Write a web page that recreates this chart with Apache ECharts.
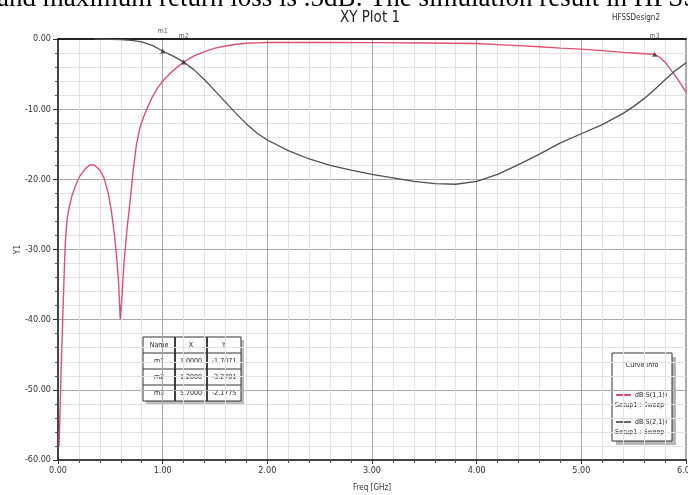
<!DOCTYPE html>
<html>
<head>
<meta charset="utf-8">
<script src="https://cdn.jsdelivr.net/npm/echarts@6/dist/echarts.min.js"></script>
<style>html,body{margin:0;padding:0;background:#fff}#c{width:688px;height:495px}</style>
</head>
<body>
<div id="c"></div>
<script>
// ---- data ----
var freqS11 = [0.01,0.02,0.03,0.045,0.06,0.07,0.085,0.1,0.13,0.17,0.21,0.26,0.31,0.35,0.40,0.44,0.48,0.51,0.54,0.56,0.58,0.595,0.61,0.63,0.66,0.69,0.72,0.75,0.78,0.82,0.86,0.9,0.95,1.0,1.1,1.2,1.3,1.4,1.5,1.6,1.7,1.8,1.9,2.0,2.5,3.0,3.5,4.0,4.2,4.4,4.6,4.8,5.0,5.2,5.4,5.5,5.6,5.7,5.75,5.8,5.85,5.9,5.95,6.0];
var dbS11 = [-58,-53,-47,-40,-33,-29,-26,-24.5,-22.5,-20.8,-19.5,-18.5,-17.9,-18.0,-18.7,-19.8,-22,-24.5,-28,-31,-35,-40,-37,-32,-27,-23,-18.5,-15,-12.8,-11,-9.6,-8.3,-7,-6,-4.5,-3.3,-2.4,-1.8,-1.3,-1.0,-0.75,-0.6,-0.55,-0.5,-0.5,-0.52,-0.58,-0.65,-0.8,-0.95,-1.1,-1.3,-1.45,-1.65,-1.9,-2.0,-2.1,-2.18,-2.6,-3.3,-4.3,-5.3,-6.4,-7.6];
var freqS21 = [0.35,0.5,0.6,0.7,0.8,0.9,1.0,1.1,1.2,1.3,1.4,1.5,1.6,1.7,1.8,1.9,2.0,2.2,2.4,2.6,2.8,3.0,3.2,3.4,3.6,3.8,4.0,4.2,4.4,4.6,4.8,5.0,5.2,5.4,5.5,5.6,5.7,5.8,5.9,6.0];
var dbS21 = [0,-0.05,-0.1,-0.2,-0.4,-0.9,-1.707,-2.45,-3.27,-4.4,-5.8,-7.4,-9.0,-10.6,-12.1,-13.4,-14.4,-15.9,-17.1,-18.0,-18.7,-19.3,-19.8,-20.3,-20.6,-20.7,-20.3,-19.3,-17.9,-16.4,-14.8,-13.5,-12.2,-10.6,-9.6,-8.5,-7.2,-5.8,-4.5,-3.4];
var markerNames = ['m1','m2','m3'];
var markerX = [1.0, 1.2, 5.7];
var markerY = [-1.7071, -3.2701, -2.1775];
var seriesNames = ['dB(S(1,1))','dB(S(2,1))'];
var sweepName = 'Setup1 : Sweep';

var FONT = '"Liberation Sans Narrow","DejaVu Sans Condensed","Liberation Sans",sans-serif';
function zip(a,b){return a.map(function(v,i){return [v,b[i]];});}

var chart = echarts.init(document.getElementById('c'), null, {renderer:'canvas'});

// table graphic
var tbl = {left:143, top:337, colW:[32,32,34], rowH:16};
var tblEls = [];
var tw = tbl.colW[0]+tbl.colW[1]+tbl.colW[2];
var rows = [['Name','X','Y']].concat(markerNames.map(function(n,i){return [n, markerX[i].toFixed(4), markerY[i].toFixed(4)];}));
tblEls.push({type:'rect', shape:{x:tbl.left+3,y:tbl.top+3,width:tw,height:rows.length*tbl.rowH}, style:{fill:'#bdbdbd'}});
tblEls.push({type:'rect', shape:{x:tbl.left,y:tbl.top,width:tw,height:rows.length*tbl.rowH}, style:{fill:'#fff',stroke:'#333',lineWidth:1}});
rows.forEach(function(r,ri){
  var cx = tbl.left;
  r.forEach(function(t,ci){
    tblEls.push({type:'text', x:cx+tbl.colW[ci]/2, y:tbl.top+ri*tbl.rowH+tbl.rowH/2, style:{text:t, font:'7px '+FONT, fill:'#222', align:'center', verticalAlign:'middle'}});
    if(ci>0) tblEls.push({type:'line', shape:{x1:cx,y1:tbl.top,x2:cx,y2:tbl.top+rows.length*tbl.rowH}, style:{stroke:'#333',lineWidth:1}});
    cx += tbl.colW[ci];
  });
  if(ri>0) tblEls.push({type:'line', shape:{x1:tbl.left,y1:tbl.top+ri*tbl.rowH,x2:tbl.left+tw,y2:tbl.top+ri*tbl.rowH}, style:{stroke:'#333',lineWidth:1}});
});

// legend graphic
var lg = {left:612, top:353, w:60, h:88};
var lgEls = [
  {type:'rect', shape:{x:lg.left+4,y:lg.top+4,width:lg.w,height:lg.h}, style:{fill:'#b5b5b5'}},
  {type:'rect', shape:{x:lg.left,y:lg.top,width:lg.w,height:lg.h}, style:{fill:'#fff',stroke:'#333',lineWidth:1}},
  {type:'text', x:lg.left+lg.w/2, y:lg.top+12, style:{text:'Curve Info', font:'7px '+FONT, fill:'#222', align:'center', verticalAlign:'middle'}},
  {type:'line', shape:{x1:lg.left+4,y1:lg.top+42,x2:lg.left+19,y2:lg.top+42}, style:{stroke:'#e0506e',lineWidth:2}},
  {type:'text', x:lg.left+23, y:lg.top+42, style:{text:seriesNames[0], font:'7px '+FONT, fill:'#222', verticalAlign:'middle'}},
  {type:'text', x:lg.left+3, y:lg.top+52, style:{text:sweepName, font:'7px '+FONT, fill:'#222', verticalAlign:'middle'}},
  {type:'line', shape:{x1:lg.left+4,y1:lg.top+69,x2:lg.left+19,y2:lg.top+69}, style:{stroke:'#333',lineWidth:1.5}},
  {type:'text', x:lg.left+23, y:lg.top+69, style:{text:seriesNames[1], font:'7px '+FONT, fill:'#222', verticalAlign:'middle'}},
  {type:'text', x:lg.left+3, y:lg.top+79, style:{text:sweepName, font:'7px '+FONT, fill:'#222', verticalAlign:'middle'}}
];

var labelDist = [14, 20, 12];

var option = {
  animation:false,
  backgroundColor:'#fff',
  grid:{left:58, right:2, top:39, bottom:35, outerBoundsMode:'none', containLabel:false, show:true, borderColor:'#555', borderWidth:1},
  xAxis:[{type:'value', min:0, max:6, interval:1,
    name:'Freq [GHz]', nameLocation:'middle', nameGap:24, nameMoveOverlap:false, nameTextStyle:{fontFamily:FONT, fontSize:8, color:'#333'},
    axisLine:{show:true, onZero:false, lineStyle:{color:'#222', width:1.5}},
    axisTick:{show:true, inside:false, length:4, lineStyle:{color:'#333'}},
    minorTick:{show:true, splitNumber:5, length:3, lineStyle:{color:'#555'}},
    splitLine:{show:true, lineStyle:{color:'#a8a8a8', width:1}},
    minorSplitLine:{show:true, lineStyle:{color:'#e6e0e0', width:1}},
    axisLabel:{fontFamily:FONT, fontSize:9, color:'#333', margin:6, formatter:function(v){return v.toFixed(2);}}
  },{type:'value', min:0, max:6, position:'top',
    axisLine:{show:true, onZero:false, lineStyle:{color:'#222', width:2}},
    axisTick:{show:false}, axisLabel:{show:false}, splitLine:{show:false}
  }],
  yAxis:{type:'value', min:-60, max:0, interval:10,
    name:'Y1', nameLocation:'middle', nameGap:36, nameMoveOverlap:false, nameRotate:90, nameTextStyle:{fontFamily:FONT, fontSize:8, color:'#333'},
    axisLine:{show:true, onZero:false, lineStyle:{color:'#222', width:1.5}},
    axisTick:{show:true, length:5, lineStyle:{color:'#333'}},
    minorTick:{show:true, splitNumber:5, length:3, lineStyle:{color:'#555'}},
    splitLine:{show:true, lineStyle:{color:'#a8a8a8', width:1}},
    minorSplitLine:{show:true, lineStyle:{color:'#e6e0e0', width:1}},
    axisLabel:{fontFamily:FONT, fontSize:9, color:'#333', margin:7, formatter:function(v){return v.toFixed(2);}}
  },
  series:[
    {name:seriesNames[0], type:'line', data:zip(freqS11,dbS11), showSymbol:false, lineStyle:{color:'#e0506e', width:1.4}, z:3},
    {name:seriesNames[1], type:'line', data:zip(freqS21,dbS21), showSymbol:false, lineStyle:{color:'#505050', width:1.3}, z:3},
    {name:'markers', type:'scatter', data:markerNames.map(function(n,i){return {name:n, value:[markerX[i],markerY[i]], label:{distance:labelDist[i]}};}),
      symbol:'triangle', symbolSize:5, itemStyle:{color:'#333'}, z:4,
      label:{show:true, position:'top', formatter:'{b}', fontFamily:FONT, fontSize:7, color:'#333'}}
  ],
  graphic:[
    {type:'text', x:-3, y:12, style:{text:'and maximum return loss is .5dB: The simulation result in HFSS', font:'27px "Liberation Serif","Times New Roman",serif', fill:'#000', verticalAlign:'bottom'}},
    {type:'text', x:370, y:18, style:{text:'XY Plot 1', font:'15px '+FONT, fill:'#222', align:'center', verticalAlign:'middle'}},
    {type:'text', x:612, y:18, style:{text:'HFSSDesign2', font:'8px '+FONT, fill:'#333', verticalAlign:'middle'}},
    {type:'group', children:tblEls},
    {type:'group', children:lgEls}
  ]
};
chart.setOption(option);
</script>
</body>
</html>
